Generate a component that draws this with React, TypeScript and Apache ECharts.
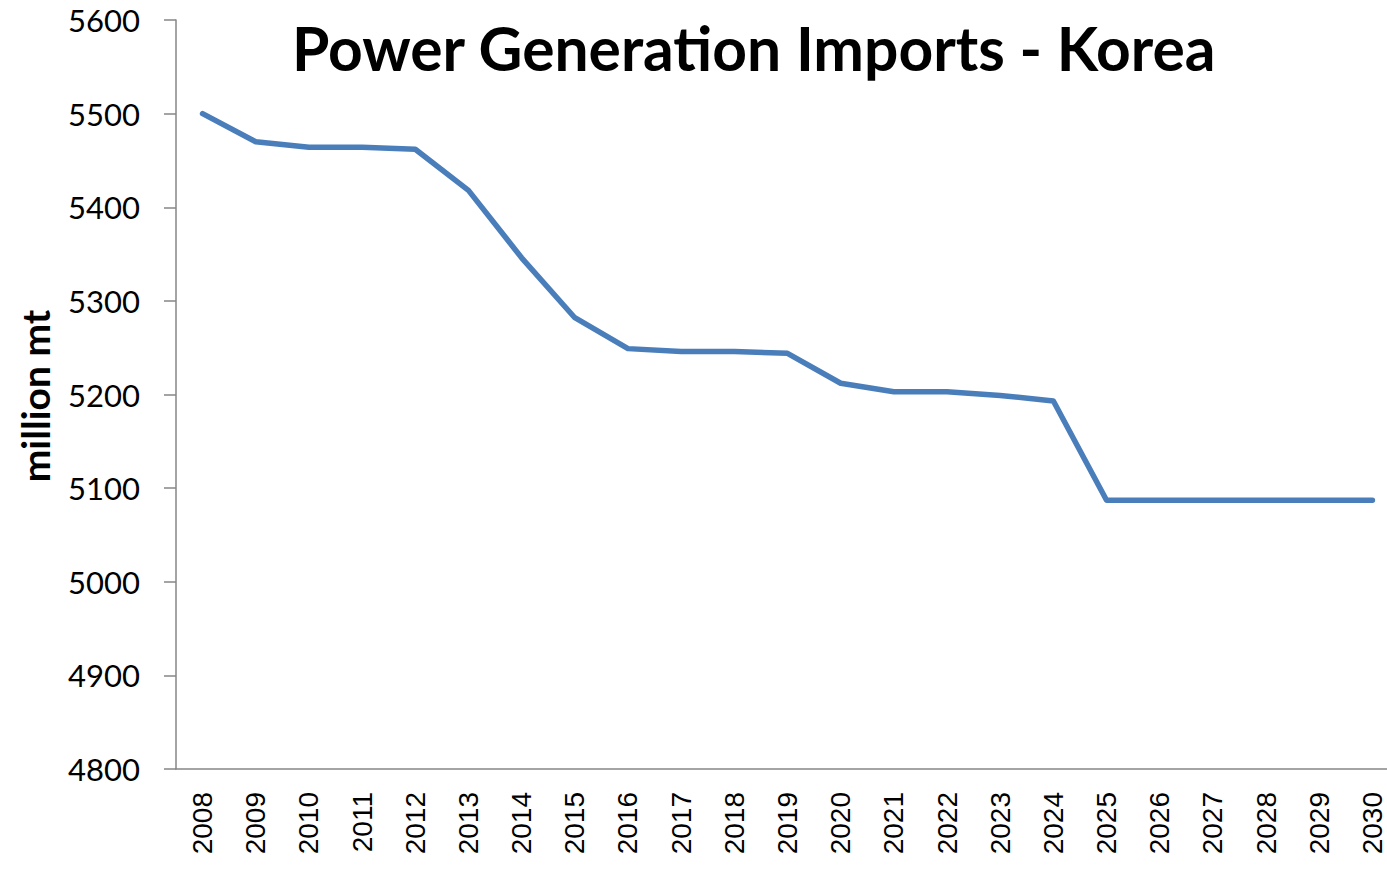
import React, { useEffect, useRef } from "react";
import * as echarts from "echarts";

const years = ["2008","2009","2010","2011","2012","2013","2014","2015","2016","2017","2018","2019","2020","2021","2022","2023","2024","2025","2026","2027","2028","2029","2030"];
const values = [5500, 5470, 5464, 5464, 5462, 5418, 5346, 5282, 5249, 5246, 5246, 5244, 5212, 5203, 5203, 5199, 5193, 5087, 5087, 5087, 5087, 5087, 5087];
const titleText = "Power Generation Imports - Korea";
const yAxisName = "million mt";

export default function App() {
  const ref = useRef<HTMLDivElement>(null);
  useEffect(() => {
    document.body.style.margin = "0";
    const chart = echarts.init(ref.current!, null, { renderer: "svg" });
    chart.setOption({
      animation: false,
      backgroundColor: "#ffffff",
      title: {
        text: titleText,
        left: 287,
        top: 12,
        textStyle: { fontFamily: "Lato", fontWeight: "bold", fontSize: 60.5, color: "#000" },
      },
      graphic: [
        {
          type: "text",
          x: 35,
          y: 396,
          rotation: Math.PI / 2,
          style: {
            text: yAxisName,
            fontFamily: "Lato",
            fontWeight: "bold",
            fontSize: 39,
            fill: "#000",
            align: "center",
            verticalAlign: "middle",
          },
        },
      ],
      grid: { left: 176, width: 1223, top: 20, bottom: 100, outerBoundsMode: "none", containLabel: false },
      xAxis: {
        type: "category",
        data: years,
        boundaryGap: true,
        axisLine: { lineStyle: { color: "#868686", width: 1.5 } },
        axisTick: { length: 10, lineStyle: { color: "#868686", width: 1.5 } },
        axisLabel: {
          rotate: 90,
          margin: 23,
          fontFamily: "Liberation Sans",
          fontSize: 28,
          color: "#000",
          interval: 0,
        },
      },
      yAxis: {
        type: "value",
        min: 4800,
        max: 5600,
        interval: 100,
        axisLine: { show: true, lineStyle: { color: "#868686", width: 1.5 } },
        axisTick: { show: true, length: 12, lineStyle: { color: "#868686", width: 1.5 } },
        splitLine: { show: false },
        axisLabel: {
          margin: 36,
          fontFamily: "Lato",
          fontSize: 31,
          color: "#000",
          formatter: (v: number) => String(v),
        },
      },
      series: [
        {
          type: "line",
          data: values,
          symbol: "none",
          lineStyle: { color: "#4a7ebb", width: 5.5, cap: "round", join: "round" },
        },
      ],
    });
    return () => chart.dispose();
  }, []);
  return <div ref={ref} style={{ width: 1387, height: 869 }} />;
}
